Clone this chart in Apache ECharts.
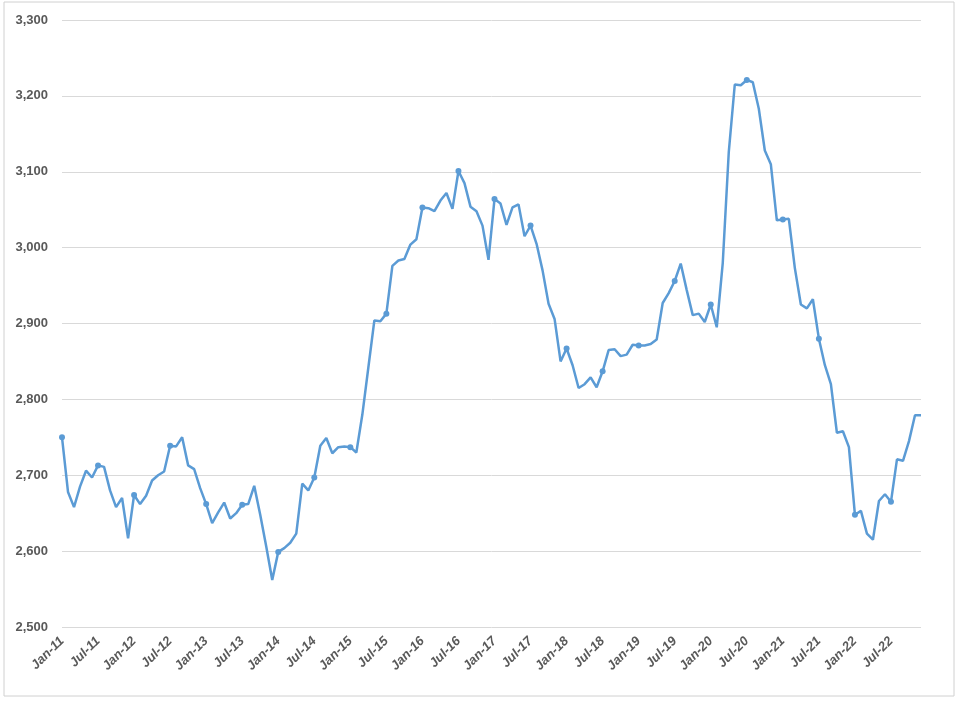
<!DOCTYPE html>
<html><head><meta charset="utf-8">
<script src="https://cdn.jsdelivr.net/npm/echarts@6/dist/echarts.min.js"></script>
<style>html,body{margin:0;padding:0;background:#fff}#c{width:958px;height:706px}</style>
</head><body><div id="c"></div>
<script>
const months = ['Jan','Feb','Mar','Apr','May','Jun','Jul','Aug','Sep','Oct','Nov','Dec'];
const years = [11,12,13,14,15,16,17,18,19,20,21,22];
const categories = [];
years.forEach(y => months.forEach(m => categories.push(m + '-' + y)));
const v2011 = [2750,2678,2658,2685,2706,2697,2713,2711,2680,2658,2670,2617];
const v2012 = [2674,2662,2673,2693,2700,2705,2739,2738,2750,2713,2708,2683];
const v2013 = [2662,2637,2651,2664,2643,2650,2661,2662,2686,2648,2606,2562];
const v2014 = [2599,2604,2611,2623,2689,2680,2697,2739,2749,2729,2737,2738];
const v2015 = [2737,2730,2780,2842,2904,2903,2913,2976,2983,2985,3004,3011];
const v2016 = [3053,3052,3048,3062,3072,3051,3101,3085,3054,3048,3029,2984];
const v2017 = [3064,3058,3030,3053,3057,3015,3029,3005,2970,2926,2906,2850];
const v2018 = [2867,2845,2815,2820,2829,2816,2837,2865,2866,2857,2859,2872];
const v2019 = [2871,2871,2873,2879,2927,2940,2956,2979,2944,2911,2913,2902];
const v2020 = [2925,2895,2980,3126,3215,3214,3221,3218,3183,3128,3110,3036];
const v2021 = [3037,3038,2973,2925,2920,2932,2880,2845,2820,2756,2758,2737];
const v2022 = [2648,2653,2623,2615,2666,2675,2665,2721,2719,2745,2779,2779];
const values = [].concat(v2011,v2012,v2013,v2014,v2015,v2016,v2017,v2018,v2019,v2020,v2021,v2022);
const yMin = 2500, yMax = 3300, yStep = 100;

const chart = echarts.init(document.getElementById('c'));
chart.setOption({
  animation: false,
  grid: {left: 62, right: 37, top: 20, bottom: 79},
  graphic: [{type:'rect', shape:{x:4,y:2,width:950,height:694}, style:{fill:'none', stroke:'#d0d0d0', lineWidth:1}, z:-1}],
  xAxis: {
    type: 'category', data: categories, boundaryGap: false,
    axisLine: {show: false}, axisTick: {show: false},
    axisLabel: {interval: 5, rotate: 45, color: '#595959', fontWeight: 'bold', fontStyle: 'italic',
      fontFamily: 'Liberation Sans', fontSize: 13, margin: 12}
  },
  yAxis: {
    type: 'value', min: yMin, max: yMax, interval: yStep,
    axisLine: {show: false}, axisTick: {show: false},
    splitLine: {lineStyle: {color: '#d9d9d9'}},
    axisLabel: {color: '#595959', fontWeight: 'bold', fontFamily: 'Liberation Sans', fontSize: 13,
      margin: 14, formatter: v => v.toLocaleString('en-US')}
  },
  series: [{
    type: 'line', data: values, symbol: 'circle', symbolSize: 6,
    lineStyle: {color: '#5b9bd5', width: 2.5}, itemStyle: {color: '#5b9bd5'}
  }]
});
</script></body></html>
